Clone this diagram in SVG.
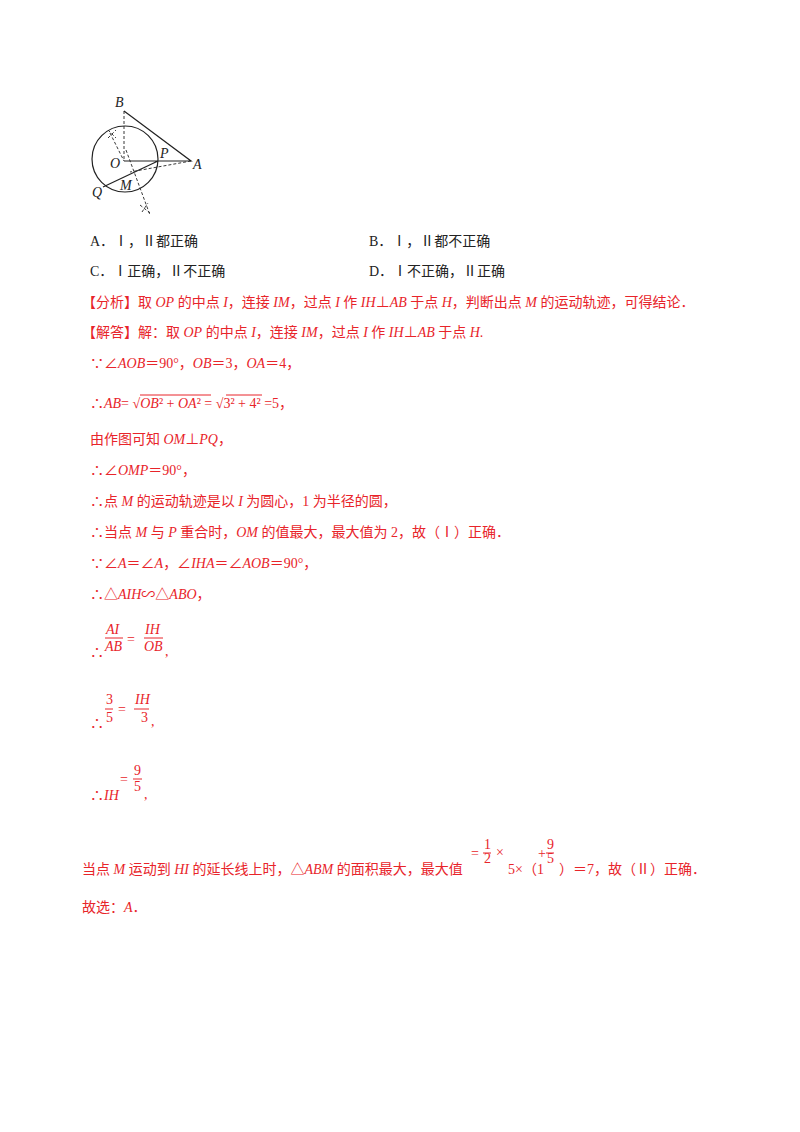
<svg xmlns="http://www.w3.org/2000/svg" width="800" height="1132" viewBox="0 0 800 1132">
<style>
text{font-family:"Liberation Serif","Noto Sans CJK SC",serif;font-size:14px}
.r{fill:#e8242a}
.k{fill:#222}
.i{font-style:italic}
.s{font-size:11px}
.ln{stroke:#222;stroke-width:1.2;fill:none}
.d{stroke:#222;stroke-width:0.9;stroke-dasharray:3,2;fill:none}
.fr{stroke:#e8242a;stroke-width:1}
</style>
<rect width="800" height="1132" fill="#fff"/>
<g id="figure">
<circle class="ln" cx="125" cy="159" r="33"/>
<path class="ln" d="M124,111 L191,161 L124,161 M103,187 L158,161"/>
<path class="d" d="M124,111 L124,161 M126,150 L150,215 M191,161 L130,172 M110,133 L124,161"/>
<path class="d" d="M108,138 l8,-8 M108,130 l8,8 M140,205 l10,8 M142,212 l6,-9"/>
<g class="k i"><text x="115" y="107">B</text><text x="110" y="168">O</text><text x="160" y="158">P</text><text x="193" y="169">A</text><text x="92" y="197">Q</text><text x="120" y="190">M</text></g>
</g>
<g id="options" class="k">
<text x="90" y="246">A．Ⅰ，Ⅱ都正确</text>
<text x="369" y="246">B．Ⅰ，Ⅱ都不正确</text>
<text x="90" y="276">C．Ⅰ正确，Ⅱ不正确</text>
<text x="369" y="276">D．Ⅰ不正确，Ⅱ正确</text>
</g>
<g id="solution" class="r">
<text x="82" y="307">【分析】取 <tspan class="i">OP</tspan> 的中点 <tspan class="i">I</tspan>，连接 <tspan class="i">IM</tspan>，过点 <tspan class="i">I</tspan> 作 <tspan class="i">IH</tspan>⊥<tspan class="i">AB</tspan> 于点 <tspan class="i">H</tspan>，判断出点 <tspan class="i">M</tspan> 的运动轨迹，可得结论．</text>
<text x="82" y="337">【解答】解：取 <tspan class="i">OP</tspan> 的中点 <tspan class="i">I</tspan>，连接 <tspan class="i">IM</tspan>，过点 <tspan class="i">I</tspan> 作 <tspan class="i">IH</tspan>⊥<tspan class="i">AB</tspan> 于点 <tspan class="i">H</tspan>.</text>
<text x="90" y="368">∵∠<tspan class="i">AOB</tspan>＝90°，<tspan class="i">OB</tspan>＝3，<tspan class="i">OA</tspan>＝4，</text>
<text x="90" y="408">∴<tspan class="i">AB</tspan>= √<tspan class="i">OB</tspan>² + <tspan class="i">OA</tspan>² = √3² + 4² =5，</text>
<path class="fr" d="M140,395 H211 M226,395 H262"/>
<text x="90" y="444">由作图可知 <tspan class="i">OM</tspan>⊥<tspan class="i">PQ</tspan>，</text>
<text x="90" y="475">∴∠<tspan class="i">OMP</tspan>＝90°，</text>
<text x="90" y="506">∴点 <tspan class="i">M</tspan> 的运动轨迹是以 <tspan class="i">I</tspan> 为圆心，1 为半径的圆，</text>
<text x="90" y="537">∴当点 <tspan class="i">M</tspan> 与 <tspan class="i">P</tspan> 重合时，<tspan class="i">OM</tspan> 的值最大，最大值为 2，故（Ⅰ）正确．</text>
<text x="90" y="568">∵∠<tspan class="i">A</tspan>＝∠<tspan class="i">A</tspan>，∠<tspan class="i">IHA</tspan>＝∠<tspan class="i">AOB</tspan>＝90°，</text>
<text x="90" y="599">∴△<tspan class="i">AIH</tspan>∽△<tspan class="i">ABO</tspan>，</text>
<text x="90" y="657">∴</text>
<g class="s i"><text x="106" y="634">AI</text><text x="105" y="651">AB</text><text x="145" y="634">IH</text><text x="144" y="651">OB</text></g>
<path class="fr" d="M105,638 H123 M144,638 H163"/>
<text x="127" y="644">=</text><text x="165" y="656">,</text>
<text x="90" y="728">∴</text>
<g class="s"><text x="106" y="704">3</text><text x="106" y="722">5</text><text x="135" y="704" class="i">IH</text><text x="141" y="722">3</text></g>
<path class="fr" d="M105,709 H113 M134,709 H149"/>
<text x="118" y="714">=</text><text x="151" y="726">,</text>
<text x="90" y="800">∴<tspan class="i">IH</tspan></text>
<text x="120" y="784">=</text>
<g class="s"><text x="134" y="775">9</text><text x="134" y="791">5</text></g>
<path class="fr" d="M133,779 H142"/>
<text x="144" y="799">,</text>
<text x="82" y="874">当点 <tspan class="i">M</tspan> 运动到 <tspan class="i">HI</tspan> 的延长线上时，△<tspan class="i">ABM</tspan> 的面积最大，最大值</text>
<text x="471" y="858">=</text>
<g class="s"><text x="484" y="849">1</text><text x="484" y="863">2</text><text x="547" y="849">9</text><text x="547" y="863">5</text></g>
<path class="fr" d="M483,853 H491 M546,853 H554"/>
<text x="496" y="857">×</text><text x="538" y="858">+</text>
<text x="508" y="874">5×（1</text>
<text x="559" y="874">）＝7，故（Ⅱ）正确．</text>
<text x="82" y="912">故选：<tspan class="i">A</tspan>．</text>
</g>
</svg>
